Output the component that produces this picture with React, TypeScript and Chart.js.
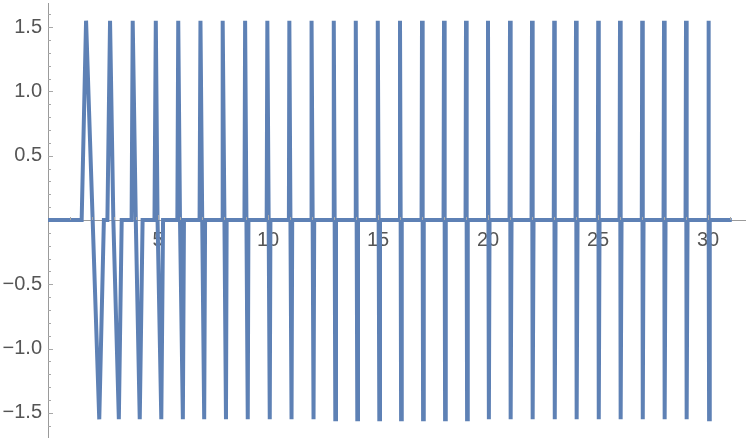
import React, { useEffect, useRef } from "react";
import { Chart, registerables } from "chart.js";

Chart.register(...registerables);

// Each oscillation: leaves 0 at riseX, reaches peak, dives to trough, returns to 0 at fallX
const riseX = [1.53, 2.70, 3.80, 4.84, 5.88, 6.89, 7.91, 8.93, 9.94, 10.95, 11.96, 12.97, 13.97, 14.97, 15.98, 16.98, 17.98, 18.98, 19.98, 20.98, 21.98, 22.99, 23.98, 24.99, 25.98, 26.99, 27.98, 28.98, 30.0];
const peakX = [1.73, 2.82, 3.85, 4.90, 5.92, 6.93, 7.94, 8.96, 9.97, 10.97, 11.98, 12.99, 13.99, 14.99, 16.0, 17.0, 18.0, 19.0, 20.0, 21.0, 22.0, 23.01, 24.0, 25.01, 26.0, 27.01, 28.0, 29.0, 30.02];
const peakY = [1.55, 1.55, 1.55, 1.55, 1.55, 1.55, 1.55, 1.55, 1.55, 1.55, 1.55, 1.55, 1.55, 1.55, 1.55, 1.55, 1.55, 1.55, 1.55, 1.55, 1.55, 1.55, 1.55, 1.55, 1.55, 1.55, 1.55, 1.55, 1.55];
const crossX = [2.03, 2.97, 3.99, 4.98, 6.0, 7.01, 8.02, 9.02, 10.03, 11.02, 12.03, 13.03, 14.03, 15.03, 16.03, 17.03, 18.03, 19.03, 20.02, 21.02, 22.02, 23.03, 24.02, 25.03, 26.02, 27.03, 28.02, 29.02, 30.04];
const troughX = [2.33, 3.22, 4.17, 5.15, 6.13, 7.10, 8.09, 9.08, 10.08, 11.07, 12.07, 13.06, 14.06, 15.06, 16.05, 17.05, 18.05, 19.05, 20.04, 21.04, 22.04, 23.04, 24.04, 25.04, 26.04, 27.04, 28.04, 29.04, 30.05];
const troughY = [-1.55, -1.55, -1.55, -1.55, -1.55, -1.55, -1.55, -1.55, -1.55, -1.55, -1.55, -1.55, -1.55, -1.55, -1.55, -1.55, -1.55, -1.55, -1.55, -1.55, -1.55, -1.55, -1.55, -1.55, -1.55, -1.55, -1.55, -1.55, -1.55];
const fallX = [2.54, 3.35, 4.30, 5.23, 6.18, 7.14, 8.12, 9.11, 10.11, 11.10, 12.10, 13.09, 14.09, 15.09, 16.08, 17.08, 18.08, 19.08, 20.07, 21.07, 22.07, 23.07, 24.07, 25.07, 26.07, 27.07, 28.07, 29.07, 30.08];
const startX = 0;
const endX = 31.08;

const xTickValues = [5, 10, 15, 20, 25, 30];
const xTickLabels = ["5", "10", "15", "20", "25", "30"];
const yTickValues = [-1.5, -1.0, -0.5, 0.5, 1.0, 1.5];
const yTickLabels = ["\u22121.5", "\u22121.0", "\u22120.5", "0.5", "1.0", "1.5"];

const X_MIN = 0;
const X_MAX = 31.7;
const Y_MIN = -1.6875;
const Y_MAX = 1.6875;

function buildPoints() {
  const pts: { x: number; y: number }[] = [{ x: startX, y: 0 }];
  for (let i = 0; i < peakX.length; i++) {
    pts.push({ x: riseX[i], y: 0 });
    pts.push({ x: peakX[i], y: peakY[i] });
    pts.push({ x: crossX[i], y: 0 });
    pts.push({ x: troughX[i], y: troughY[i] });
    pts.push({ x: fallX[i], y: 0 });
  }
  pts.push({ x: endX, y: 0 });
  return pts;
}

const AXIS_COLOR = "#9a9a9a";
const TICK_COLOR = "#a8a8a8";
const LABEL_COLOR = "#555555";
const FONT = { family: "'Liberation Sans', Arial, sans-serif", size: 20 };

const minorTicksPlugin = {
  id: "minorTicks",
  afterDraw(chart: any) {
    const { ctx, scales } = chart;
    const xs = scales.x;
    const ys = scales.y;
    const x0 = xs.left;
    const y0 = ys.getPixelForValue(0);
    ctx.save();
    ctx.strokeStyle = TICK_COLOR;
    ctx.lineWidth = 1;
    for (let k = -16; k <= 16; k++) {
      if (k === 0) continue;
      const v = k / 10;
      const py = Math.round(ys.getPixelForValue(v)) + 0.5;
      const major = k % 5 === 0;
      const len = major ? 5 : 3;
      ctx.beginPath();
      ctx.moveTo(x0, py);
      ctx.lineTo(x0 + len, py);
      ctx.stroke();
    }
    for (let k = 1; k <= 31; k++) {
      const px = Math.round(xs.getPixelForValue(k)) + 0.5;
      const major = k % 5 === 0;
      const len = major ? 5 : 3;
      ctx.beginPath();
      ctx.moveTo(px, y0);
      ctx.lineTo(px, y0 - len);
      ctx.stroke();
    }
    ctx.restore();
  },
};

export default function App() {
  const ref = useRef<HTMLCanvasElement | null>(null);
  useEffect(() => {
    if (!ref.current) return;
    const chart = new Chart(ref.current, {
      type: "line",
      data: {
        datasets: [
          {
            data: buildPoints(),
            borderColor: "#5E81B5",
            borderWidth: 4,
            pointRadius: 0,
            tension: 0,
            fill: false,
          },
        ],
      },
      options: {
        animation: false,
        responsive: false,
        maintainAspectRatio: false,
        layout: { padding: { top: 3, bottom: 5, left: 0, right: 1.6 } },
        plugins: { legend: { display: false }, tooltip: { enabled: false } },
        scales: {
          x: {
            type: "linear",
            min: X_MIN,
            max: X_MAX,
            position: { y: 0 } as any,
            z: 1,
            grid: { display: false, drawTicks: false },
            border: { display: true, color: AXIS_COLOR, width: 1 },
            afterBuildTicks: (scale: any) => {
              scale.ticks = xTickValues.map((v) => ({ value: v }));
            },
            afterFit: (scale: any) => {
              scale.height = 0;
              scale.paddingLeft = 0;
              scale.paddingRight = 0;
              scale.paddingTop = 0;
              scale.paddingBottom = 0;
            },
            ticks: {
              autoSkip: false,
              maxRotation: 0,
              padding: 8,
              color: LABEL_COLOR,
              font: FONT,
              callback: (v: any) => {
                const i = xTickValues.indexOf(Number(v));
                return i >= 0 ? xTickLabels[i] : "";
              },
            },
          },
          y: {
            type: "linear",
            min: Y_MIN,
            max: Y_MAX,
            position: "left",
            z: 1,
            grid: { display: false, drawTicks: false },
            border: { display: true, color: AXIS_COLOR, width: 1 },
            afterBuildTicks: (scale: any) => {
              scale.ticks = yTickValues.map((v) => ({ value: v }));
            },
            afterFit: (scale: any) => {
              scale.width = 48;
              scale.paddingTop = 0;
              scale.paddingBottom = 0;
              scale.paddingLeft = 0;
              scale.paddingRight = 0;
            },
            ticks: {
              autoSkip: false,
              padding: 6,
              color: LABEL_COLOR,
              font: FONT,
              callback: (v: any) => {
                const i = yTickValues.findIndex((t) => Math.abs(t - Number(v)) < 1e-9);
                return i >= 0 ? yTickLabels[i] : "";
              },
            },
          },
        },
      },
      plugins: [minorTicksPlugin],
    });
    return () => chart.destroy();
  }, []);
  return (
    <div style={{ position: "fixed", left: 0, top: 0, width: 747, height: 442, background: "#fff" }}>
      <canvas ref={ref} width={747} height={442} style={{ display: "block" }} />
    </div>
  );
}
